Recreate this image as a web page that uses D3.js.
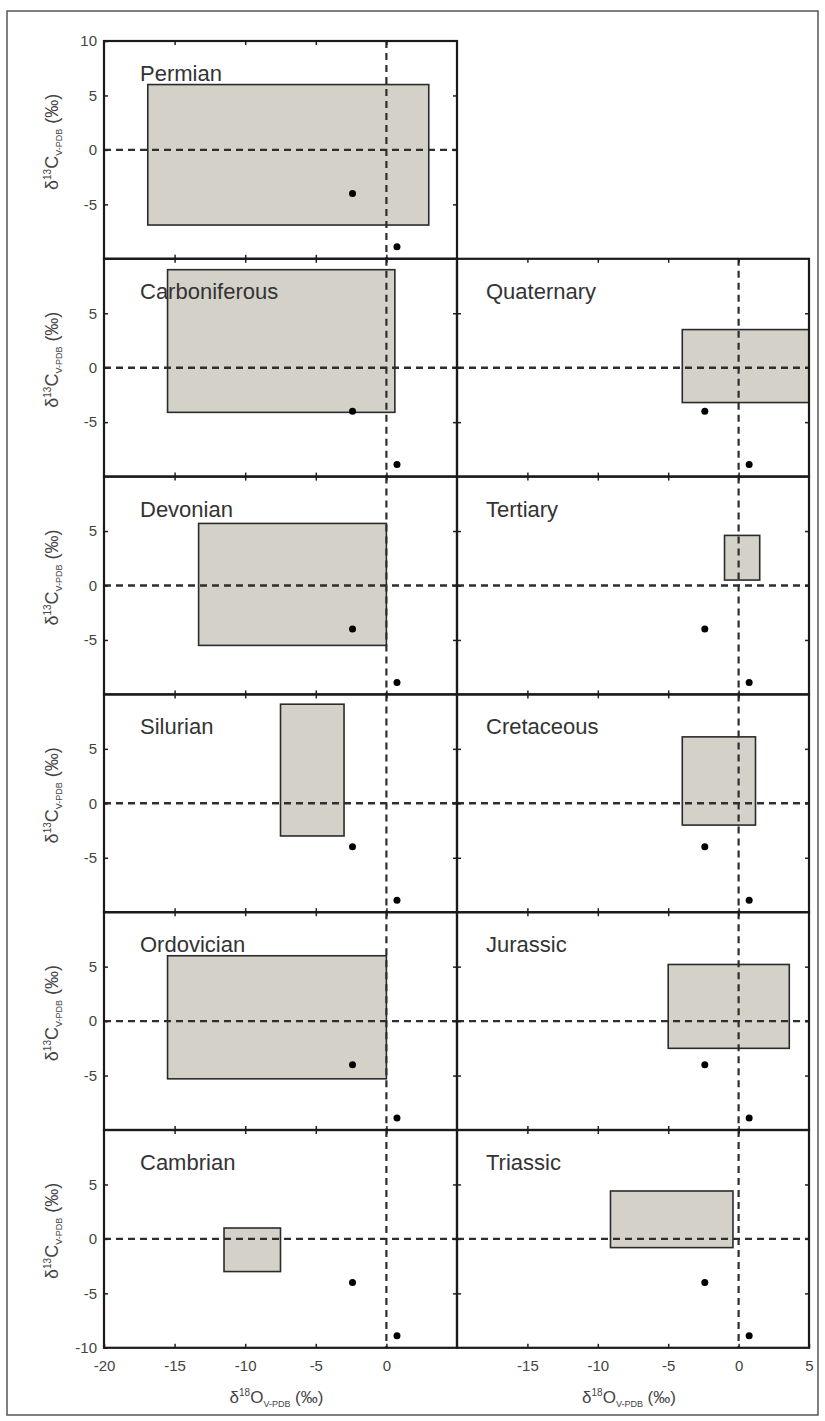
<!doctype html>
<html>
<head>
<meta charset="utf-8"/>
<title>Isotope ranges by period</title>
<script src="https://cdnjs.cloudflare.com/ajax/libs/d3/7.8.5/d3.min.js"></script>
<style>
  body { margin: 0; background: #fff; }
  svg { display: block; font-family: Arial, "Liberation Sans", sans-serif; }
</style>
</head>
<body>
<svg width="825" height="1421"></svg>
<script>
// periods, which column (0 left / 1 right) and row they sit in
var periods = ["Permian", "Carboniferous", "Devonian", "Silurian", "Ordovician", "Cambrian",
               "Quaternary", "Tertiary", "Cretaceous", "Jurassic", "Triassic"]
var cols = [0, 0, 0, 0, 0, 0, 1, 1, 1, 1, 1]
var rows = [0, 1, 2, 3, 4, 5, 1, 2, 3, 4, 5]

// ranges of d18O and d13C (per mil) for each period
var oMin = [-16.9, -15.5, -13.3, -7.5, -15.5, -11.5, -4.0, -1.0, -4.0, -5.0, -9.1]
var oMax = [3.0, 0.6, 0.0, -3.0, 0.0, -7.5, 5.0, 1.5, 1.2, 3.6, -0.4]
var cMin = [-6.9, -4.1, -5.5, -3.0, -5.3, -3.0, -3.2, 0.5, -2.0, -2.5, -0.8]
var cMax = [6.0, 9.0, 5.7, 9.1, 6.0, 1.0, 3.5, 4.6, 6.1, 5.2, 4.4]

// the two reference points shown in every panel
var refO = [-2.4, 0.75]
var refC = [-4.0, -8.9]

var xTicksLeft = [-20, -15, -10, -5, 0]
var xTicksRight = [-15, -10, -5, 0, 5]
var xTickMarks = [-15, -10, -5, 0]
var yTickMarks = [5, 0, -5]

var svg = d3.select("svg")
var top0 = 41, rowH = 217.8
var colRange = [[104, 457], [457, 809]]

// outer frame
svg.append("rect")
  .attr("x", 7).attr("y", 11).attr("width", 811).attr("height", 1404)
  .attr("fill", "none").attr("stroke", "#555").attr("stroke-width", 1.5)

periods.forEach(function(name, i) {
  var c = cols[i], r = rows[i]
  var x = d3.scaleLinear().domain([-20, 5]).range(colRange[c])
  var y0 = top0 + r * rowH
  var y = d3.scaleLinear().domain([-10, 10]).range([y0 + rowH, y0])
  var g = svg.append("g")

  // range box
  g.append("rect")
    .attr("x", x(oMin[i])).attr("y", y(cMax[i]))
    .attr("width", x(oMax[i]) - x(oMin[i]))
    .attr("height", y(cMin[i]) - y(cMax[i]))
    .attr("fill", "#d4d1c8").attr("stroke", "#2b2b2b").attr("stroke-width", 1.6)

  // zero lines
  g.append("line")
    .attr("x1", x(-20)).attr("x2", x(5)).attr("y1", y(0)).attr("y2", y(0))
    .attr("stroke", "#2e2e2e").attr("stroke-width", 2.4).attr("stroke-dasharray", "7,5")
  g.append("line")
    .attr("x1", x(0)).attr("x2", x(0)).attr("y1", y(10)).attr("y2", y(-10))
    .attr("stroke", "#2e2e2e").attr("stroke-width", 2.2).attr("stroke-dasharray", "7,5")

  // axes with inward ticks
  var yLabels = r == 0 ? [10, 5, 0, -5] : (r == 5 ? [5, 0, -5, -10] : [5, 0, -5])
  var left = g.append("g").attr("transform", "translate(" + x(-20) + ",0)")
    .call(d3.axisLeft(y).tickValues(c == 0 ? yLabels : yTickMarks)
      .tickSizeInner(-4).tickSizeOuter(0).tickPadding(7)
      .tickFormat(function(d) { return c == 0 ? String(d) : "" }))
  var right = g.append("g").attr("transform", "translate(" + x(5) + ",0)")
    .call(d3.axisRight(y).tickValues(yTickMarks).tickSizeInner(-4).tickSizeOuter(0)
      .tickFormat(""))
  var topAx = g.append("g").attr("transform", "translate(0," + y(10) + ")")
    .call(d3.axisTop(x).tickValues(xTickMarks).tickSizeInner(-4).tickSizeOuter(0)
      .tickFormat(""))
  var bottom = g.append("g").attr("transform", "translate(0," + y(-10) + ")")
    .call(d3.axisBottom(x).tickValues(r == 5 ? (c == 0 ? xTicksLeft : xTicksRight) : xTickMarks)
      .tickSizeInner(-4).tickSizeOuter(0).tickPadding(13)
      .tickFormat(function(d) { return r == 5 ? String(d) : "" }))
  ;[left, right, topAx, bottom].forEach(function(a) {
    a.select(".domain").remove()
    a.selectAll("line").attr("stroke", "#222").attr("stroke-width", 1.5)
    a.selectAll("text").attr("font-size", 15).attr("fill", "#444")
      .attr("font-family", "Arial, 'Liberation Sans', sans-serif")
  })

  // panel frame
  g.append("rect")
    .attr("x", x(-20)).attr("y", y(10))
    .attr("width", x(5) - x(-20)).attr("height", y(-10) - y(10))
    .attr("fill", "none").attr("stroke", "#1a1a1a").attr("stroke-width", 2.2)

  // reference points
  g.selectAll("circle").data(refO).enter().append("circle")
    .attr("cx", function(d) { return x(d) })
    .attr("cy", function(d, j) { return y(refC[j]) })
    .attr("r", 3.5).attr("fill", "#000")

  // period name
  g.append("text")
    .attr("x", x(-20) + (c == 0 ? 36 : 29)).attr("y", y0 + 40)
    .attr("font-size", 22).attr("fill", "#333").text(name)

  // y title on left column
  if (c == 0) {
    var t = g.append("text")
      .attr("transform", "translate(58," + (y0 + rowH / 2 - 8) + ") rotate(-90)")
      .attr("text-anchor", "middle").attr("font-size", 18).attr("fill", "#444")
    t.append("tspan").text("δ")
    t.append("tspan").attr("font-size", 10).attr("dy", -7).text("13")
    t.append("tspan").attr("dy", 7).text("C")
    t.append("tspan").attr("font-size", 9).attr("dy", 4).text("V-PDB")
    t.append("tspan").attr("dy", -4).text(" (‰)")
  }

  // x title under bottom row
  if (r == 5) {
    var xt = g.append("text")
      .attr("x", (x(-20) + x(5)) / 2 - 4).attr("y", 1403)
      .attr("text-anchor", "middle").attr("font-size", 17).attr("fill", "#444")
    xt.append("tspan").text("δ")
    xt.append("tspan").attr("font-size", 10).attr("dy", -7).text("18")
    xt.append("tspan").attr("dy", 7).text("O")
    xt.append("tspan").attr("font-size", 9).attr("dy", 4).text("V-PDB")
    xt.append("tspan").attr("dy", -4).text(" (‰)")
  }
})
</script>
</body>
</html>
